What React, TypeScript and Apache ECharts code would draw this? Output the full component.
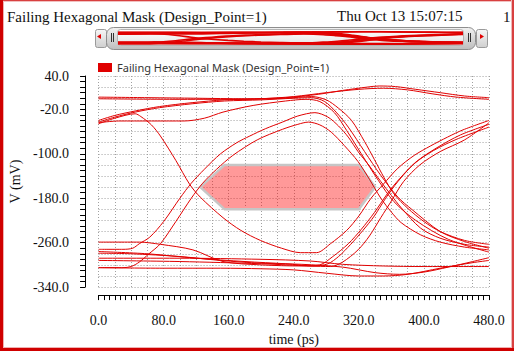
import React, { useEffect, useRef } from 'react';
import * as echarts from 'echarts';

const TITLE = 'Failing Hexagonal Mask (Design_Point=1)';
const LEGEND_NAME = 'Failing Hexagonal Mask (Design_Point=1)';
const DATE_TEXT = 'Thu Oct 13 15:07:15';
const YEAR_TEXT = '2011';
const PAGE_TEXT = '1';
const X_NAME = 'time (ps)';
const Y_NAME = 'V (mV)';

const xTickLabels = [0, 80, 160, 240, 320, 400, 480];
const yTickLabels = [40, -20, -100, -180, -260, -340];

// hexagonal eye mask vertices (ps, mV)
const maskT = [125, 155, 320, 340, 320, 155];
const maskV = [-160, -120, -120, -160, -200, -200];

type P = [number, number];

const traceHigh1: P[] = [[0, 2], [60, 1], [120, 0], [180, -1], [230, 1], [270, 7], [300, 14], [330, 20], [345, 22], [365, 21], [390, 16], [420, 10], [450, 4], [480, 1]];
const traceHigh2: P[] = [[0, -40], [20, -31], [45, -23], [75, -15], [115, -8], [155, -3], [200, -1], [240, 3], [280, 10], [320, 16], [350, 18], [380, 15], [410, 8], [440, 2], [480, -2]];
const traceFall1: P[] = [[0, -1], [100, -2], [180, -2], [230, 0], [262, 3], [280, -3], [295, -18], [311, -40], [327, -78], [339, -110], [351, -143], [363, -172], [380, -198], [400, -222], [420, -240], [450, -256], [480, -263]];
const traceFall2: P[] = [[0, -43], [20, -34], [45, -25], [75, -17], [115, -10], [155, -5], [200, -3], [240, 0], [262, 1], [278, -6], [292, -25], [307, -52], [327, -96], [347, -139], [368, -178], [385, -200], [420, -240], [450, -258], [480, -270]];
const traceFall3: P[] = [[0, -44], [25, -41], [105, -41], [130, -36], [153, -25], [190, -13], [230, -5], [255, -2], [272, -6], [290, -26], [305, -58], [323, -100], [344, -148], [363, -186], [390, -220], [430, -254], [480, -277]];
const traceDip: P[] = [[0, -46], [20, -36], [45, -28], [52, -33], [65, -48], [76, -68], [95, -112], [112, -155], [125, -178], [153, -215], [175, -238], [199, -256], [225, -270], [248, -278], [268, -278], [285, -262], [305, -238], [320, -212], [335, -180], [350, -155], [368, -126], [388, -103], [408, -86], [429, -70], [448, -57], [480, -40]];
const traceBump1: P[] = [[0, -272], [30, -272], [42, -270], [50, -262], [63, -250], [80, -222], [100, -180], [114, -153], [130, -128], [150, -100], [170, -80], [186, -68], [205, -55], [226, -43], [245, -32], [266, -26], [282, -34], [295, -50], [307, -70], [319, -96], [333, -122], [347, -150], [360, -175], [372, -197], [396, -234], [420, -252], [450, -263], [480, -268]];
const traceBump2: P[] = [[0, -305], [30, -305], [40, -303], [50, -295], [62, -280], [76, -262], [95, -222], [114, -180], [128, -153], [145, -128], [165, -103], [195, -75], [226, -56], [245, -47], [258, -43], [272, -48], [286, -61], [302, -85], [319, -114], [333, -146], [347, -180], [360, -205], [372, -224], [396, -246], [420, -259], [450, -268], [480, -273]];
const traceRise1: P[] = [[0, -259], [50, -259], [76, -263], [116, -273], [153, -294], [200, -300], [250, -302], [272, -300], [288, -285], [307, -262], [323, -236], [339, -206], [355, -172], [370, -145], [390, -115], [415, -90], [445, -66], [480, -47]];
const traceRise2: P[] = [[0, -276], [60, -280], [120, -288], [180, -294], [230, -298], [265, -302], [282, -298], [295, -285], [310, -263], [325, -238], [339, -212], [353, -180], [368, -150], [388, -118], [412, -94], [440, -74], [480, -52]];
const traceRise3: P[] = [[0, -292], [100, -294], [200, -298], [260, -302], [285, -303], [300, -295], [319, -273], [333, -248], [347, -215], [360, -185], [375, -150], [395, -120], [420, -96], [450, -75], [480, -44]];
const traceLow1: P[] = [[0, -279], [40, -280], [100, -285], [150, -292], [200, -297], [250, -299], [300, -304], [340, -314], [370, -317], [400, -313], [430, -304], [460, -294], [480, -287]];
const traceLow2: P[] = [[0, -288], [100, -288], [200, -290], [260, -293], [300, -299], [350, -302], [400, -303], [480, -303]];
const traceLow3: P[] = [[0, -305], [80, -306], [150, -306], [200, -307], [240, -309], [280, -315], [320, -320], [350, -320], [380, -317], [420, -306], [460, -296], [480, -292]];

const traces: P[][] = [
  traceHigh1, traceHigh2, traceFall1, traceFall2, traceFall3, traceDip,
  traceBump1, traceBump2, traceRise1, traceRise2, traceRise3,
  traceLow1, traceLow2, traceLow3,
];

const RED = '#e00000';
const SERIF = '"Liberation Serif", "DejaVu Serif", serif';
const SANS = '"Noto Sans", "Open Sans", sans-serif';

function grad(c1: string, c2: string) {
  return { type: 'linear', x: 0, y: 0, x2: 0, y2: 1, colorStops: [{ offset: 0, color: c1 }, { offset: 1, color: c2 }] };
}

export default function App() {
  const ref = useRef<HTMLDivElement>(null);
  useEffect(() => {
    if (!ref.current) return;
    const chart = echarts.init(ref.current, undefined, { renderer: 'svg' });

    const mainSeries = traces.map((d) => ({
      type: 'line',
      name: LEGEND_NAME,
      xAxisIndex: 0,
      yAxisIndex: 0,
      data: d,
      smooth: 0.3,
      showSymbol: false,
      symbol: 'none',
      color: RED,
      lineStyle: { color: RED, width: 1 },
      z: 3,
      silent: true,
    }));
    const thumbSeries = traces.map((d) => ({
      type: 'line',
      name: 'thumb',
      xAxisIndex: 1,
      yAxisIndex: 1,
      data: d,
      smooth: 0.3,
      showSymbol: false,
      symbol: 'none',
      color: RED,
      lineStyle: { color: RED, width: 1.6 },
      z: 5,
      silent: true,
    }));

    const maskSeries = {
      type: 'custom',
      name: 'mask',
      xAxisIndex: 0,
      yAxisIndex: 0,
      data: maskT.map((t, i) => [t, maskV[i]]),
      encode: { x: 0, y: 1 },
      z: 2,
      silent: true,
      renderItem: (params: any, api: any) => {
        if (params.dataIndex !== 0) return null;
        const pts = maskT.map((t, i) => api.coord([t, maskV[i]]));
        return {
          type: 'polygon',
          shape: { points: pts },
          style: { fill: 'rgba(255,0,0,0.4)', stroke: '#c6c6c6', lineWidth: 2.5 },
        };
      },
    };

    const graphics: any[] = [
      { type: 'text', left: 7, top: 9, z: 0, style: { text: TITLE, font: `15px ${SERIF}`, fill: '#111' } },
      { type: 'text', left: 337, top: 8, z: 0, style: { text: DATE_TEXT, font: `15px ${SERIF}`, fill: '#111' } },
      { type: 'text', left: 337, top: 24, z: 0, style: { text: YEAR_TEXT, font: `15px ${SERIF}`, fill: '#111' } },
      { type: 'text', left: 503, top: 9, z: 0, style: { text: PAGE_TEXT, font: `15px ${SERIF}`, fill: '#111' } },
      // slider buttons
      { type: 'rect', z: 1, shape: { x: 95.5, y: 29.5, width: 11, height: 18, r: 2 }, style: { fill: grad('#f6f6f6', '#cfcfcf'), stroke: '#9a9a9a', lineWidth: 1 } },
      { type: 'polygon', z: 2, shape: { points: [[97, 36.5], [101, 34], [101, 39]] }, style: { fill: RED } },
      { type: 'rect', z: 1, shape: { x: 476.5, y: 29.5, width: 11, height: 18, r: 2 }, style: { fill: grad('#f6f6f6', '#cfcfcf'), stroke: '#9a9a9a', lineWidth: 1 } },
      { type: 'polygon', z: 2, shape: { points: [[484, 36.5], [480, 34], [480, 39]] }, style: { fill: RED } },
      // thumb
      { type: 'rect', z: 1, shape: { x: 106.5, y: 27.5, width: 369, height: 22, r: 7 }, style: { fill: grad('#f2f2f2', '#bdbdbd'), stroke: '#8e8e8e', lineWidth: 1 } },
      { type: 'rect', z: 2, shape: { x: 117.5, y: 29.5, width: 346, height: 16, r: 3 }, style: { fill: grad('#ffffff', '#e4e4e4'), stroke: '#b4b4b4', lineWidth: 1 } },
      { type: 'line', z: 2, shape: { x1: 111.5, y1: 33, x2: 111.5, y2: 42 }, style: { stroke: '#333', lineWidth: 1 } },
      { type: 'line', z: 2, shape: { x1: 113.5, y1: 33, x2: 113.5, y2: 42 }, style: { stroke: '#333', lineWidth: 1 } },
      { type: 'line', z: 2, shape: { x1: 468.5, y1: 33, x2: 468.5, y2: 42 }, style: { stroke: '#333', lineWidth: 1 } },
      { type: 'line', z: 2, shape: { x1: 470.5, y1: 33, x2: 470.5, y2: 42 }, style: { stroke: '#333', lineWidth: 1 } },
      // frame
      { type: 'rect', z: 10, shape: { x: 0, y: 0, width: 514, height: 1 }, style: { fill: '#d84040' } },
      { type: 'rect', z: 10, shape: { x: 0, y: 1, width: 514, height: 1 }, style: { fill: '#f2c0c0' } },
      { type: 'rect', z: 10, shape: { x: 511, y: 0, width: 1, height: 351 }, style: { fill: '#f0b8b8' } },
      { type: 'rect', z: 10, shape: { x: 512, y: 0, width: 2, height: 351 }, style: { fill: '#d84040' } },
      { type: 'rect', z: 10, shape: { x: 0, y: 0, width: 3, height: 351 }, style: { fill: '#d00000' } },
      { type: 'rect', z: 10, shape: { x: 3, y: 2, width: 1, height: 346 }, style: { fill: '#f0b0b0' } },
      { type: 'rect', z: 10, shape: { x: 3, y: 347, width: 508, height: 1 }, style: { fill: '#f0b0b0' } },
      { type: 'rect', z: 10, shape: { x: 0, y: 348, width: 514, height: 3 }, style: { fill: '#d00000' } },
    ];

    const splitLine = { show: true, lineStyle: { color: '#a0a0a0', width: 1, type: [1, 2] } };

    chart.setOption({
      animation: false,
      backgroundColor: '#ffffff',
      legend: {
        left: 98,
        top: 62,
        padding: 0,
        itemWidth: 14,
        itemHeight: 9,
        icon: 'rect',
        selectedMode: false,
        data: [LEGEND_NAME],
        textStyle: { fontFamily: SANS, fontSize: 11, color: '#333' },
      },
      grid: [
        { left: 94.5, top: 76, width: 394.5, height: 214.5 },
        { left: 118, top: 31.5, width: 345, height: 13 },
      ],
      xAxis: [
        {
          type: 'value', gridIndex: 0, min: 0, max: 480, interval: 20, offset: 8,
          name: X_NAME, nameLocation: 'middle', nameGap: 33,
          nameTextStyle: { fontFamily: SERIF, fontSize: 14, color: '#111' },
          axisLine: { show: true, onZero: false, lineStyle: { color: '#000', width: 1 } },
          axisTick: { show: true, inside: false, length: 5, lineStyle: { color: '#000' } },
          minorTick: { show: true, splitNumber: 3, length: 5, lineStyle: { color: '#000' } },
          axisLabel: {
            margin: 18, fontFamily: SERIF, fontSize: 14, color: '#111',
            formatter: (v: number) => (xTickLabels.includes(v) ? v.toFixed(1) : ''),
          },
          splitLine,
        },
        { type: 'value', gridIndex: 1, min: 0, max: 480, show: false },
      ],
      yAxis: [
        {
          type: 'value', gridIndex: 0, min: -340, max: 40, interval: 20, offset: 13.5,
          name: Y_NAME, nameLocation: 'middle', nameGap: 60,
          nameTextStyle: { fontFamily: SERIF, fontSize: 14, color: '#111' },
          axisLine: { show: true, onZero: false, lineStyle: { color: '#000', width: 1 } },
          axisTick: { show: true, inside: false, length: 5, lineStyle: { color: '#000' } },
          minorTick: { show: true, splitNumber: 2, length: 5, lineStyle: { color: '#000' } },
          axisLabel: {
            margin: 16, fontFamily: SERIF, fontSize: 14, color: '#111',
            formatter: (v: number) => (yTickLabels.includes(v) ? v.toFixed(1) : ''),
          },
          splitLine,
        },
        { type: 'value', gridIndex: 1, min: -325, max: 25, show: false },
      ],
      graphic: { elements: graphics },
      series: [maskSeries, ...mainSeries, ...thumbSeries],
    } as any);

    return () => chart.dispose();
  }, []);

  return <div ref={ref} style={{ position: 'fixed', left: 0, top: 0, width: 514, height: 351, background: '#fff' }} />;
}
